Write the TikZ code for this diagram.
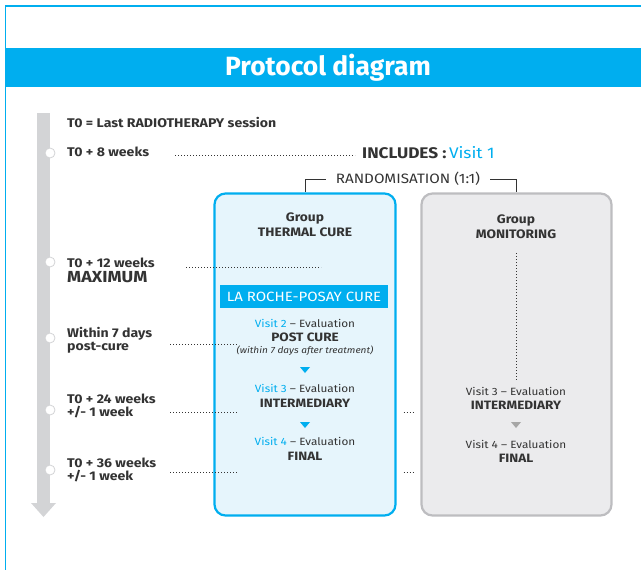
\documentclass[tikz,border=0pt]{standalone}
\usepackage{fontspec}
\setmainfont[FakeStretch=1.12]{Fira Sans}
\newfontfamily\titlefont{Fira Sans}
\definecolor{rpblue}{HTML}{00AEEF}
\definecolor{rptext}{HTML}{333333}
\definecolor{rpbar}{HTML}{D3D4D6}
\definecolor{rpcure}{HTML}{E6F5FC}
\definecolor{rpmongray}{HTML}{BDBDC0}
\definecolor{rpmonfill}{HTML}{EBEBED}
\tikzset{
  timelabel/.style={anchor=west, inner sep=0, text=rptext, font=\fontsize{12.6}{13}\selectfont\bfseries, align=left},
  boxtext/.style={inner sep=0, text=rptext, font=\fontsize{10.5}{13}\selectfont, align=center},
  boldtext/.style={boxtext, font=\fontsize{12.1}{13}\selectfont\bfseries},
  grouptext/.style={boxtext, font=\fontsize{12.3}{15}\selectfont\bfseries},
  dots/.style={rptext, line width=0.9pt, dash pattern=on 0.9pt off 2.1pt},
  tick/.style={circle, fill=white, draw=rpbar, line width=0.8pt, minimum size=10, inner sep=0},
}
\begin{document}
\begin{tikzpicture}[x=1pt,y=-1pt]
    \useasboundingbox (0,0) rectangle (641,570);
    % frame and title
    \draw[rpblue, line width=1.2pt] (5.5,570) -- (5.5,6) -- (641,6);
    \fill[rpblue] (5,48) rectangle (641,87);
    \node[text=white, font=\fontsize{26.4}{26}\titlefont\bfseries] (title) at (328,68) {Protocol diagram};
    % time line
    \fill[rpbar] (37,113) rectangle (50,503);
    \fill[rpbar] (31,503) -- (56,503) -- (43.5,517) -- cycle;
    \foreach \y/\n in {153/w8, 262/w12, 338/post, 410/w24, 470/w36}
      \node[tick] (tick\n) at (50,\y) {};
    \node[timelabel] (lzero) at (67,122) {T0 = Last RADIOTHERAPY session};
    \node[timelabel] (lw8) at (67,152) {T0 + 8 weeks};
    \node[timelabel] (lw12) at (67,262.5) {T0 + 12 weeks};
    \node[timelabel, font=\fontsize{16}{16}\selectfont\bfseries] (lmax) at (67,277.5) {MAXIMUM};
    \node[timelabel] (lpost) at (67,340.5) {Within 7 days\\post-cure};
    \node[timelabel] (lw24) at (67,406) {T0 + 24 weeks\\+/- 1 week};
    \node[timelabel] (lw36) at (67,469.5) {T0 + 36 weeks\\+/- 1 week};
    % inclusion and randomisation
    \node[anchor=west, inner sep=0, text=rptext, font=\fontsize{15.4}{16}\selectfont\bfseries] (incl) at (362,153)
      {INCLUDES :\,\textcolor{rpblue}{\mdseries Visit 1}};
    \node[inner sep=0, text=rptext, font=\fontsize{13.6}{14}\selectfont] (rando) at (408,179) {RANDOMISATION (1:1)};
    % groups
    \node[draw=rpblue, fill=rpcure, line width=2.2pt, rounded corners=11, minimum width=181, minimum height=322, inner sep=0] (thermal) at (305,354.5) {};
    \node[draw=rpmongray, fill=rpmonfill, line width=2.2pt, rounded corners=11, minimum width=190, minimum height=322, inner sep=0] (monitor) at (516.5,354.5) {};
    \draw[rptext, line width=1pt] ([xshift=-10]rando.west) -| (thermal.north);
    \draw[rptext, line width=1pt] ([xshift=10]rando.east) -| (monitor.north);
    % thermal cure group
    \node[grouptext] (tgroup) at (305,224.5) {Group\\THERMAL CURE};
    \node[fill=rpblue, text=white, font=\fontsize{13.4}{13}\selectfont, minimum width=168, minimum height=23, inner sep=0] (cure) at (304,296.5) {LA ROCHE-POSAY CURE};
    \node[boxtext] (tv2) at (305,323) {\textcolor{rpblue}{Visit 2} – Evaluation};
    \node[boldtext] (tpost) at (305,337) {POST CURE};
    \node[boxtext, font=\fontsize{9}{9}\selectfont\itshape] (tnote) at (305,351) {(within 7 days after treatment)};
    \fill[rpblue] (300,367) -- (310,367) -- (305,373) -- cycle;
    \node[boxtext] (tv3) at (305,388) {\textcolor{rpblue}{Visit 3} – Evaluation};
    \node[boldtext] (tinter) at (305,403) {INTERMEDIARY};
    \fill[rpblue] (300,422) -- (310,422) -- (305,428) -- cycle;
    \node[boxtext] (tv4) at (305,441) {\textcolor{rpblue}{Visit 4} – Evaluation};
    \node[boldtext] (tfinal) at (305,456) {FINAL};
    % monitoring group
    \node[grouptext] (mgroup) at (516,227) {Group\\MONITORING};
    \node[boxtext] (mv3) at (516,391) {Visit 3 – Evaluation};
    \node[boldtext] (minter) at (516,405) {INTERMEDIARY};
    \fill[gray!70] (511,422) -- (521,422) -- (516,428) -- cycle;
    \node[boxtext] (mv4) at (516,444) {Visit 4 – Evaluation};
    \node[boldtext] (mfinal) at (516,458) {FINAL};
    \draw[dots] ([yshift=-14]mgroup.south) -- ([yshift=5]mv3.north);
    % dotted guides
    \coordinate (d8) at (175,155);
    \coordinate (d12a) at (186,267);
    \coordinate (d12b) at (321,267);
    \coordinate (dposta) at (170,344);
    \coordinate (dpostb) at (237,344);
    \coordinate (d24a) at (170,412);
    \coordinate (d24b) at (237,412);
    \coordinate (d36a) at (170,472);
    \coordinate (d36b) at (237,472);
    \draw[dots] (d8) -- ([xshift=-7]incl.west |- d8);
    \draw[dots] (d12a) -- (d12b);
    \draw[dots] (dposta) -- (dpostb);
    \draw[dots] (d24a) -- (d24b);
    \draw[dots] (d36a) -- (d36b);
    \draw[dots] ([xshift=7]thermal.east |- d24a) -- ([xshift=-7]monitor.west |- d24a);
    \draw[dots] ([xshift=7]thermal.east |- d36a) -- ([xshift=-7]monitor.west |- d36a);
\end{tikzpicture}
\end{document}
